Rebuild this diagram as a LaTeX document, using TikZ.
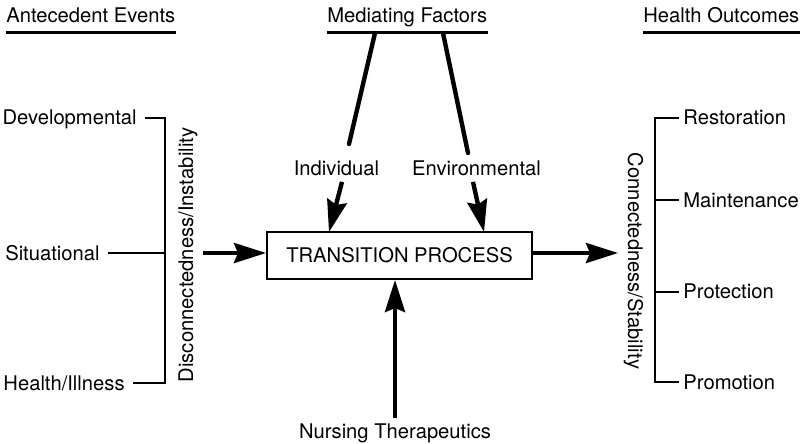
\documentclass[tikz,border=0pt]{standalone}
\usepackage{fontspec}
\setmainfont{TeX Gyre Heros}
\usetikzlibrary{arrows.meta}
\begin{document}
\begin{tikzpicture}[x=0.5pt, y=-0.5pt, font=\fontsize{10.1}{12}\selectfont,
    lbl/.style={inner sep=0pt, text height=7pt, text depth=0pt},
    head/.style={inner sep=0pt, anchor=base west},
    rule/.style={line width=1.5pt},
    bar/.style={line width=1.2pt},
    stem/.style={line width=2.2pt, line cap=round},
    heavy/.style={line width=2.2pt, -{Stealth[length=16pt, width=10pt, inset=2pt]}},
    box/.style={draw, line width=1pt, minimum width=132.5pt, minimum height=23.5pt, text height=7pt, text depth=0pt}]
    \useasboundingbox (0,0) rectangle (804,444);
    % headings
    \node[head] (ante) at (6,23) {Antecedent Events};
    \node[head] (medi) at (327,23) {Mediating Factors};
    \node[head] (outc) at (643,23) {Health Outcomes};
    \draw[rule] ([yshift=-5pt]ante.base west) -- ([yshift=-5pt]ante.base east);
    \draw[rule] ([yshift=-5pt]medi.base west) -- ([yshift=-5pt]medi.base east);
    \draw[rule] ([yshift=-5pt]outc.base west) -- ([yshift=-5pt]outc.base east);
    % antecedents
    \coordinate (ltop) at (165,118);
    \coordinate (lbot) at (165,383);
    \node[lbl, anchor=east, inner xsep=4pt] (dev) at (145,118) {Developmental};
    \node[lbl, anchor=east, inner xsep=4pt] (sit) at (108,253) {Situational};
    \node[lbl, anchor=east, inner xsep=4pt] (hea) at (133,383) {Health/Illness};
    \draw[bar] (dev) -- (ltop) -- (lbot) -- (hea);
    \draw[bar] (sit) -- (sit -| ltop);
    \node[lbl, rotate=90, anchor=base] (disc) at (193,255) {Disconnectedness/Instability};
    % process
    \node[box] (trans) at (399.5,255.5) {TRANSITION PROCESS};
    \coordinate (rin) at (203,253);
    \coordinate (rout) at (618,253);
    \draw[heavy] (rin) -- (rin -| trans.west);
    \draw[heavy] (rin -| trans.east) -- (rout);
    % mediating factors
    \coordinate (mi) at (375,33);
    \coordinate (mie) at (349,144);
    \coordinate (me) at (443,33);
    \coordinate (mee) at (468,153);
    \node[lbl, inner sep=3pt] (indiv) at (336.5,168.5) {Individual};
    \node[lbl, inner sep=3pt] (envir) at (476.5,168.5) {Environmental};
    \draw[stem] (mi) -- (mie);
    \draw[stem] (me) -- (mee);
    \draw[heavy] ([xshift=2.75pt]indiv.south) -- (329,232);
    \draw[heavy] ([xshift=-1.75pt]envir.south) -- (484,232);
    % nursing
    \node[lbl, inner sep=3pt] (nurs) at (395,431.5) {Nursing Therapeutics};
    \draw[heavy] (nurs.north) -- (nurs.north |- trans.south);
    % outcomes
    \node[lbl, rotate=-90, anchor=base] (conn) at (628,261) {Connectedness/Stability};
    \coordinate (rtop) at (655,118);
    \coordinate (rbot) at (655,382);
    \node[lbl, anchor=west, inner xsep=2pt] (rest) at (679,118) {Restoration};
    \node[lbl, anchor=west, inner xsep=2pt] (main) at (679,200) {Maintenance};
    \node[lbl, anchor=west, inner xsep=2pt] (prot) at (679,292) {Protection};
    \node[lbl, anchor=west, inner xsep=2pt] (prom) at (679,382) {Promotion};
    \draw[bar] (rest) -- (rtop) -- (rbot) -- (prom);
    \draw[bar] (main) -- (main -| rtop);
    \draw[bar] (prot) -- (prot -| rtop);
\end{tikzpicture}
\end{document}
